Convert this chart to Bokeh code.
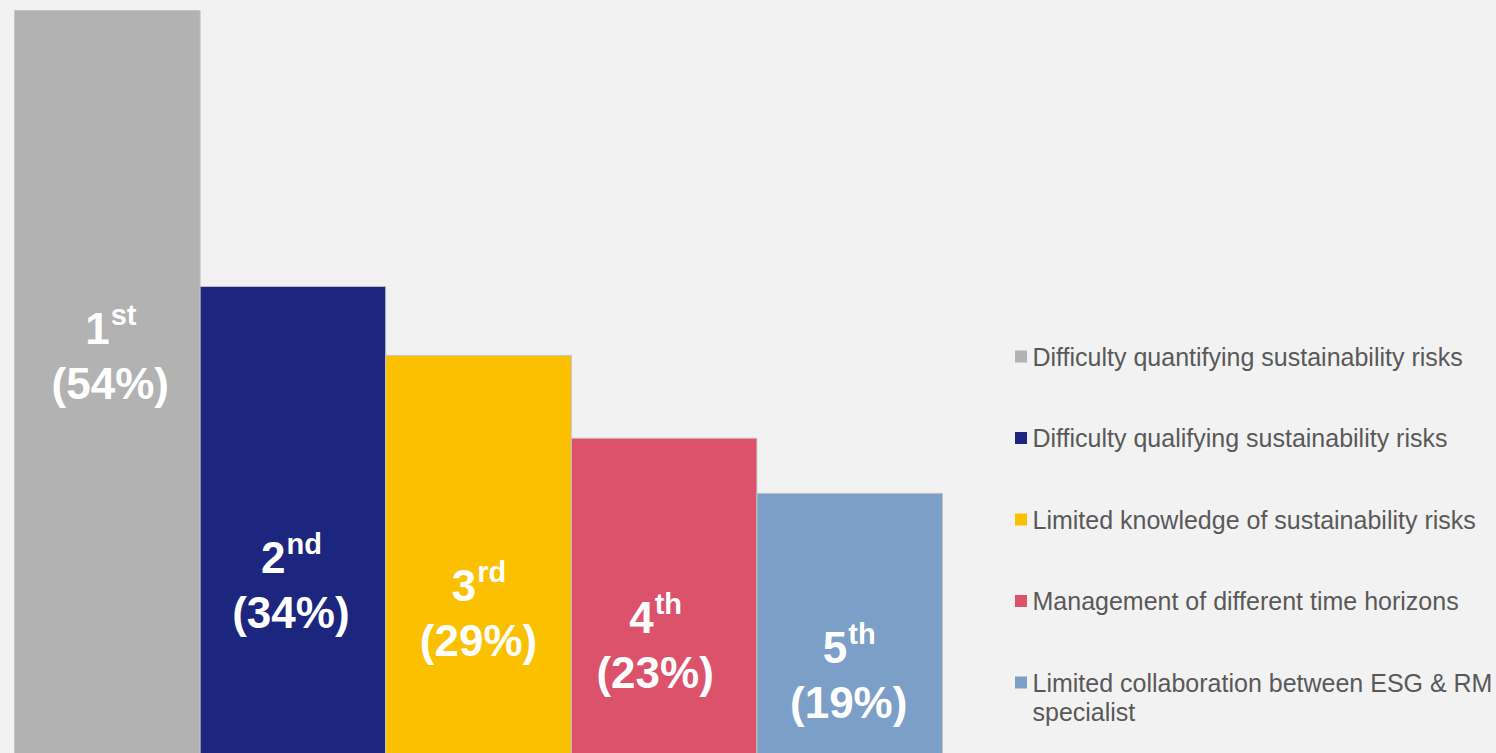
from bokeh.plotting import figure
from bokeh.models import ColumnDataSource, Range1d
from bokeh.core.properties import value
from bokeh.embed import file_html
from bokeh.resources import INLINE

# ---------------- data ----------------
categories = [
    "Difficulty quantifying sustainability risks",
    "Difficulty qualifying sustainability risks",
    "Limited knowledge of sustainability risks",
    "Management of different time horizons",
    "Limited collaboration between ESG & RM\nspecialist",
]
values = [54, 34, 29, 23, 19]
rank_digits = ["1", "2", "3", "4", "5"]
rank_suffixes = ["st", "nd", "rd", "th", "th"]
colors = ["#b2b2b2", "#1c267e", "#fbc000", "#dc526b", "#7b9fc6"]

# ---------------- layout (page pixels) ----------------
W, H = 1496, 753
ORIGIN = 0
BG = "#f2f2f2"
bar_px = 185.6                       # px per bar
sy = (755 - 10) / max(values)        # px per percent
x_start = 0.5 - (14 - ORIGIN) / bar_px
x_end = x_start + W / bar_px
y_start = (755 - (ORIGIN + H)) / sy
y_end = y_start + H / sy

def px_x(px):
    return x_start + (px - ORIGIN) / bar_px

def px_y(py):
    return (755 - py) / sy

label_base_py = [383, 612, 640, 672, 702]   # baseline of "(xx%)" line
label_dx = [3, -2, 0, -9, -1]               # horizontal nudges in px
MAIN_FS, SUP_FS = 44, 29

p = figure(width=W, height=H, output_backend="svg", toolbar_location=None,
           x_range=Range1d(x_start, x_end), y_range=Range1d(y_start, y_end),
           x_axis_location=None, y_axis_location=None, min_border=0)
p.background_fill_color = BG
p.border_fill_color = BG
p.outline_line_color = None
p.xgrid.visible = False
p.ygrid.visible = False

xs = list(range(1, len(values) + 1))
src = ColumnDataSource(dict(x=xs, top=values, color=colors))
p.vbar(x="x", top="top", bottom=0, width=1, fill_color="color",
       line_color="#c4c4c4", line_width=1, source=src)

# ---------------- bar labels ----------------
bold_w = {"s": .556, "t": .333, "n": .611, "d": .611, "r": .389, "h": .611}
for i, x in enumerate(xs):
    dw = 0.556 * MAIN_FS
    sw = sum(bold_w[c] for c in rank_suffixes[i]) * SUP_FS
    split = label_dx[i] + dw - (dw + sw) / 2
    yb = px_y(label_base_py[i])
    p.text(x=[x], y=[yb], text=[f"({values[i]}%)"], x_offset=label_dx[i],
           text_align="center", text_baseline="alphabetic",
           text_font=value("Liberation Sans"), text_font_style="bold",
           text_font_size=f"{MAIN_FS}px", text_color="#ffffff")
    p.text(x=[x], y=[yb], text=[rank_digits[i]], x_offset=split, y_offset=-55,
           text_align="right", text_baseline="alphabetic",
           text_font=value("Liberation Sans"), text_font_style="bold",
           text_font_size=f"{MAIN_FS}px", text_color="#ffffff")
    p.text(x=[x], y=[yb], text=[rank_suffixes[i]], x_offset=split + 1, y_offset=-69,
           text_align="left", text_baseline="alphabetic",
           text_font=value("Liberation Sans"), text_font_style="bold",
           text_font_size=f"{SUP_FS}px", text_color="#ffffff")

# ---------------- legend ----------------
leg_row_py = [356, 437.5, 519, 600.5, 682]
for i, lab in enumerate(categories):
    yc = px_y(leg_row_py[i])
    p.scatter(x=[px_x(1020.5)], y=[yc], marker="square", size=12,
              fill_color=colors[i], line_color=None)
    for j, line in enumerate(lab.split("\n")):
        p.text(x=[px_x(1032)], y=[yc], text=[line], y_offset=j * 29,
               text_align="left", text_baseline="middle",
               text_font=value("Liberation Sans"), text_font_size="25px",
               text_color="#595959")

html = file_html(p, INLINE)
html = html.replace("<head>", "<head><style>body{background:#f2f2f2;}</style>", 1)
open("out.html", "w").write(html)
